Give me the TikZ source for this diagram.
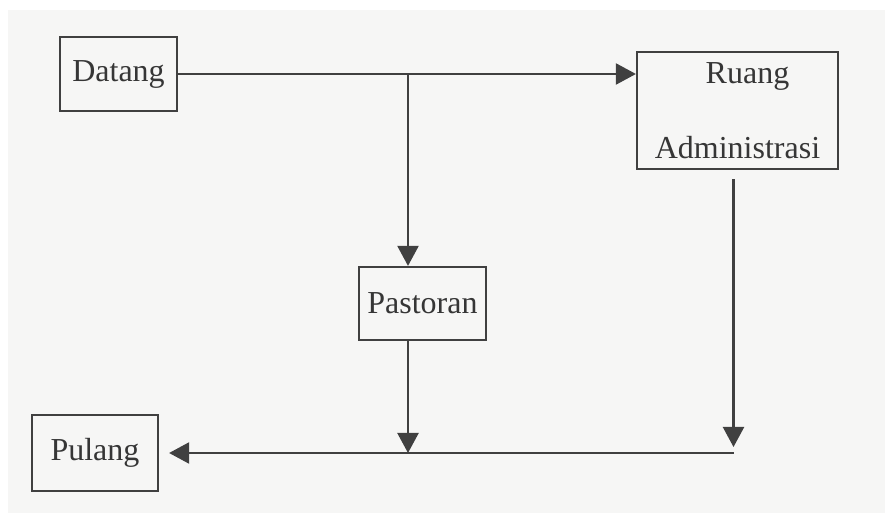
\documentclass[tikz,border=0pt]{standalone}
\usepackage{fontspec}
\setmainfont{Liberation Serif}
\usetikzlibrary{arrows.meta}
\definecolor{ink}{HTML}{404040}
\definecolor{paper}{HTML}{F6F6F5}
\tikzset{
  box/.style={draw=ink, line width=2.2pt, inner sep=0pt, align=center,
    font=\fontsize{32}{37}\selectfont, text=ink!85!black},
  conn/.style={draw=ink, line width=2.2pt, -{Triangle[length=20pt,width=21pt]}}
}
\begin{document}
\begin{tikzpicture}[x=1pt,y=1pt]
\useasboundingbox (0,0) rectangle (885,513);
\fill[white] (0,0) rectangle (885,513);
\fill[paper] (8,0) rectangle (885,503);
% boxes (y = 513 - pixel row)
\node[box, minimum width=117pt, minimum height=74pt] (datang) at (118.5,439) {Datang};
\node[box, minimum width=201pt, minimum height=117pt,
      font=\fontsize{32}{75}\selectfont] (ruang) at (737.5,402.5) {\hspace*{20pt}Ruang\\Administrasi};
\node[box, minimum width=127pt, minimum height=73pt] (pastoran) at (422.5,209.5) {Pastoran};
\node[box, minimum width=126pt, minimum height=76pt] (pulang) at (95,60) {Pulang};
% junctions
\coordinate (top) at (datang.east);
\coordinate (j1) at (top -| 408,0);
\coordinate (ruangout) at ([xshift=-4pt,yshift=-9pt]ruang.south);
\coordinate (j2) at (408,60);
\coordinate (j3) at (ruangout |- j2);
% connectors
\draw[conn] (datang.east) -- (datang.east -| ruang.west);
\draw[conn] (j1) -- (j1 |- pastoran.north);
\draw[conn] (pastoran.south -| j1) -- (j2);
\draw[conn, shorten >=6pt] (ruangout) -- (j3);
\draw[conn, shorten >=10pt] (j3) -- (pulang.east);
\end{tikzpicture}
\end{document}
